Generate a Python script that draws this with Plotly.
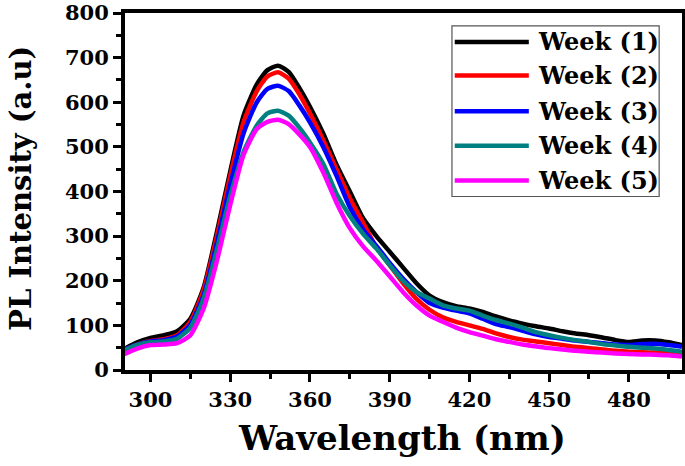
"""PL spectra over five weeks, redrawn as a Plotly line chart."""
import plotly.graph_objects as go

wavelength = [290, 295, 300, 305, 310, 315, 320, 325, 330, 335, 340, 344, 348,
              352, 356, 360, 365, 370, 375, 380, 385, 390, 395, 400, 405, 410,
              415, 420, 425, 430, 435, 440, 445, 450, 455, 460, 465, 470, 475,
              480, 485, 490, 495, 500]

week1 = [47, 62, 72, 78, 87, 115, 185, 310, 445, 570, 640, 672, 682,
         668, 632, 590, 530, 460, 400, 340, 300, 265, 230, 195, 167, 152,
         143, 138, 130, 120, 111, 104, 98, 93, 87, 82, 78, 73, 67,
         63, 66, 66, 62, 56]
week2 = [45, 57, 65, 69, 78, 108, 180, 300, 435, 555, 625, 658, 667,
         653, 618, 575, 515, 450, 385, 330, 275, 235, 195, 160, 135, 118,
         108, 100, 92, 82, 74, 68, 64, 60, 56, 52, 49, 46, 43,
         41, 40, 39, 38, 36]
week3 = [46, 57, 64, 67, 75, 102, 168, 285, 415, 530, 600, 630, 637,
         625, 593, 555, 500, 435, 365, 315, 278, 240, 205, 175, 150, 140,
         133, 127, 115, 103, 96, 88, 80, 74, 70, 66, 63, 60, 57,
         56, 58, 59, 56, 52]
week4 = [44, 56, 62, 64, 70, 95, 160, 270, 390, 488, 548, 575, 581,
         570, 543, 510, 462, 395, 345, 305, 272, 235, 200, 175, 160, 145,
         138, 133, 122, 112, 104, 95, 85, 78, 72, 67, 63, 58, 55,
         52, 50, 48, 45, 41]
week5 = [35, 48, 56, 57, 60, 78, 138, 245, 370, 482, 540, 556, 561,
         551, 528, 500, 443, 375, 318, 277, 245, 210, 175, 145, 122, 108,
         95, 85, 77, 69, 63, 57, 53, 49, 46, 43, 41, 39, 37,
         36, 35, 34, 33, 30]

series = [week1, week2, week3, week4, week5]
names = ["Week (1)", "Week (2)", "Week (3)", "Week (4)", "Week (5)"]
colors = ["#000000", "#ff0000", "#0000ff", "#008080", "#ff00ff"]

x_ticks = [300, 330, 360, 390, 420, 450, 480]
y_ticks = [0, 100, 200, 300, 400, 500, 600, 700, 800]

FONT = "DejaVu Serif"


def bold(size):
    return dict(family=FONT, size=size, color="black", weight="bold")


fig = go.Figure()
for vals, name, col in zip(series, names, colors):
    fig.add_trace(go.Scatter(
        x=wavelength, y=vals, name=name, mode="lines",
        line=dict(color=col, width=4.5, shape="spline", smoothing=0.6),
        showlegend=False,
    ))

# Hand-drawn legend so the sample lines are as long as in the original.
fig.add_shape(type="rect", xref="paper", yref="paper",
              x0=0.587, x1=0.959, y0=0.486, y1=0.964,
              line=dict(color="#555", width=1.2), fillcolor="white")
row_y = [0.919, 0.825, 0.725, 0.628, 0.531]
for yy, name, col in zip(row_y, names, colors):
    fig.add_shape(type="line", xref="paper", yref="paper",
                  x0=0.592, x1=0.725, y0=yy, y1=yy,
                  line=dict(color=col, width=4.5))
    fig.add_annotation(xref="paper", yref="paper", x=0.738, y=yy,
                       text=name, showarrow=False, xanchor="left",
                       yanchor="middle", font=bold(24))

# axis titles as annotations, placed by hand
fig.add_annotation(xref="paper", yref="paper", x=0.497, y=-0.19,
                   text="Wavelength (nm)", showarrow=False,
                   xanchor="center", yanchor="middle", font=bold(34))
fig.add_annotation(xref="paper", yref="paper", x=-0.187, y=0.51,
                   text="PL Intensity (a.u)", showarrow=False, textangle=-90,
                   xanchor="center", yanchor="middle", font=bold(29))

axis_common = dict(
    showline=True, linecolor="black", linewidth=4, mirror=True,
    showgrid=False, zeroline=False, automargin=False,
    ticks="outside", tickwidth=3, tickcolor="black", ticklen=8,
    tickfont=bold(21), ticklabeloverflow="allow",
)
fig.update_xaxes(
    range=[290.4, 500], tickvals=x_ticks,
    minor=dict(dtick=15, tick0=300, ticks="outside", ticklen=5,
               tickwidth=3, tickcolor="black"),
    **axis_common,
)
fig.update_yaxes(
    range=[0, 800], tickvals=y_ticks,
    minor=dict(dtick=50, ticks="outside", ticklen=5,
               tickwidth=3, tickcolor="black"),
    **axis_common,
)

fig.update_layout(
    width=685, height=466,
    margin=dict(l=125, r=3, t=13, b=96),
    plot_bgcolor="white", paper_bgcolor="white",
)
# page body has a default 8px margin; drop it so the figure sits at 0,0
fig.write_html("out.html", config={"displayModeBar": False},
               post_script="document.body.style.margin='0';")
